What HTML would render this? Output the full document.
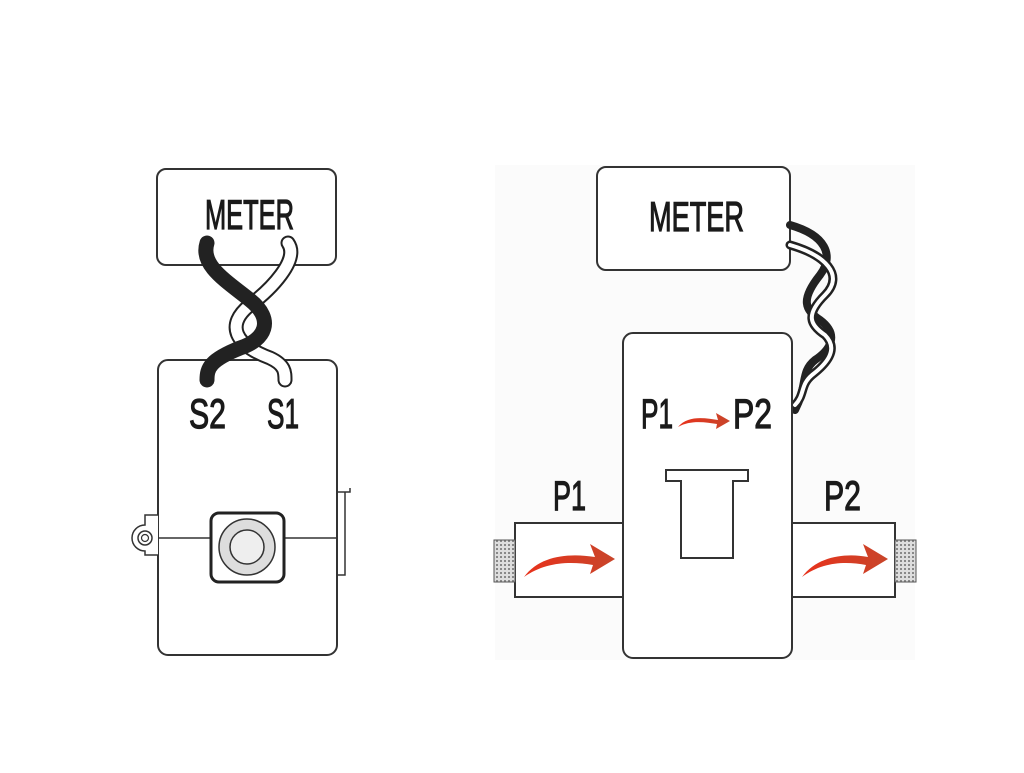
<!DOCTYPE html>
<html><head><meta charset="utf-8"><style>
body{margin:0;background:#fff;}
svg text{font-family:"Liberation Sans",sans-serif;fill:#1a1a1a;stroke:#1a1a1a;stroke-width:1.2;}
</style></head><body>
<svg width="1024" height="768" viewBox="0 0 1024 768" xmlns="http://www.w3.org/2000/svg">
<defs>
<pattern id="tex" width="4" height="4" patternUnits="userSpaceOnUse"><rect width="4" height="4" fill="#ddd"/><rect width="2" height="2" fill="#888"/></pattern>
<linearGradient id="rg" x1="0" x2="1"><stop offset="0" stop-color="#e8321c"/><stop offset="1" stop-color="#c8452a"/></linearGradient>
</defs>
<rect x="495" y="165" width="420" height="495" fill="#fbfbfb"/>
<!-- LEFT -->
<rect x="157" y="169" width="179" height="96" rx="9" fill="#fff" stroke="#333" stroke-width="2"/>
<text x="205" y="229" font-size="42" textLength="89" lengthAdjust="spacingAndGlyphs">METER</text>
<rect x="158" y="360" width="179" height="295" rx="10" fill="#fff" stroke="#333" stroke-width="2"/>
<path d="M288 243 C300 260,270 290,250 305 C225 325,235 345,270 358 C285 365,285 372,285 380" fill="none" stroke="#222" stroke-width="15" stroke-linecap="round"/>
<path d="M288 243 C300 260,270 290,250 305 C225 325,235 345,270 358 C285 365,285 372,285 380" fill="none" stroke="#fff" stroke-width="11" stroke-linecap="round"/>
<path d="M207 243 C200 265,225 280,250 300 C275 320,265 340,240 348 C210 360,207 368,207 380" fill="none" stroke="#222" stroke-width="15" stroke-linecap="round"/>
<text x="189" y="428" font-size="42" textLength="37" lengthAdjust="spacingAndGlyphs">S2</text>
<text x="267" y="428" font-size="42" textLength="32" lengthAdjust="spacingAndGlyphs">S1</text>
<line x1="158" y1="538" x2="337" y2="538" stroke="#333" stroke-width="1.5"/>
<path d="M158 515 H145 V525 A13 13 0 0 0 145 551 V555 H158" fill="#fff" stroke="#333" stroke-width="1.5"/>
<circle cx="145" cy="538" r="7" fill="#fff" stroke="#333" stroke-width="1.5"/>
<circle cx="145" cy="538" r="3.5" fill="none" stroke="#333" stroke-width="1.2"/>
<path d="M337 492 H350 V488 M345 492 V575 H337" fill="none" stroke="#333" stroke-width="1.5"/>
<rect x="211" y="513" width="73" height="69" rx="8" fill="#fff" stroke="#222" stroke-width="3"/>
<circle cx="247" cy="547" r="28" fill="#ddd" stroke="#333" stroke-width="1.5"/>
<circle cx="247" cy="547" r="17" fill="#eee" stroke="#333" stroke-width="1.5"/>
<!-- RIGHT -->
<rect x="597" y="167" width="193" height="103" rx="9" fill="#fff" stroke="#333" stroke-width="2"/>
<text x="649" y="231" font-size="42" textLength="95" lengthAdjust="spacingAndGlyphs">METER</text>
<g fill="none" stroke-linecap="round">
<path d="M790 225 C825 235,835 255,820 275 C800 300,805 310,820 320 C840 335,830 350,815 360 C800 372,808 385,795 410" stroke="#222" stroke-width="8"/>
<path d="M790 245 C825 255,845 275,825 295 C805 315,810 325,825 335 C840 350,825 365,812 375 C800 385,805 395,795 405" stroke="#222" stroke-width="9"/>
<path d="M790 245 C825 255,845 275,825 295 C805 315,810 325,825 335 C840 350,825 365,812 375 C800 385,805 395,795 405" stroke="#fff" stroke-width="4"/>
</g>
<rect x="515" y="523" width="110" height="74" fill="#fff" stroke="#333" stroke-width="2"/>
<rect x="790" y="523" width="105" height="74" fill="#fff" stroke="#333" stroke-width="2"/>
<rect x="494" y="540" width="21" height="42" fill="url(#tex)" stroke="#555" stroke-width="1"/>
<rect x="895" y="540" width="21" height="42" fill="url(#tex)" stroke="#555" stroke-width="1"/>
<rect x="623" y="333" width="169" height="325" rx="10" fill="#fff" stroke="#333" stroke-width="2"/>
<text x="641" y="428" font-size="42" textLength="32" lengthAdjust="spacingAndGlyphs">P1</text>
<text x="733" y="428" font-size="42" textLength="39" lengthAdjust="spacingAndGlyphs">P2</text>
<path d="M678 427 C688 415,705 418,718 420 L716 413 L730 421 L716 429 L717 424 C705 422,690 420,678 427 Z" fill="url(#rg)"/>
<text x="553" y="510" font-size="42" textLength="33" lengthAdjust="spacingAndGlyphs">P1</text>
<text x="824" y="510" font-size="42" textLength="37" lengthAdjust="spacingAndGlyphs">P2</text>
<path d="M524 577 C540 555,570 553,595 557 L590 544 L615 559 L590 574 L593 565 C570 561,545 562,524 577 Z" fill="url(#rg)"/>
<path d="M802 577 C818 555,848 553,868 557 L863 544 L888 559 L863 574 L866 565 C845 561,822 562,802 577 Z" fill="url(#rg)"/>
<path d="M666 470 H748 V481 H733 V558 H681 V481 H666 Z" fill="#fff" stroke="#333" stroke-width="2"/>
</svg>
</body></html>
